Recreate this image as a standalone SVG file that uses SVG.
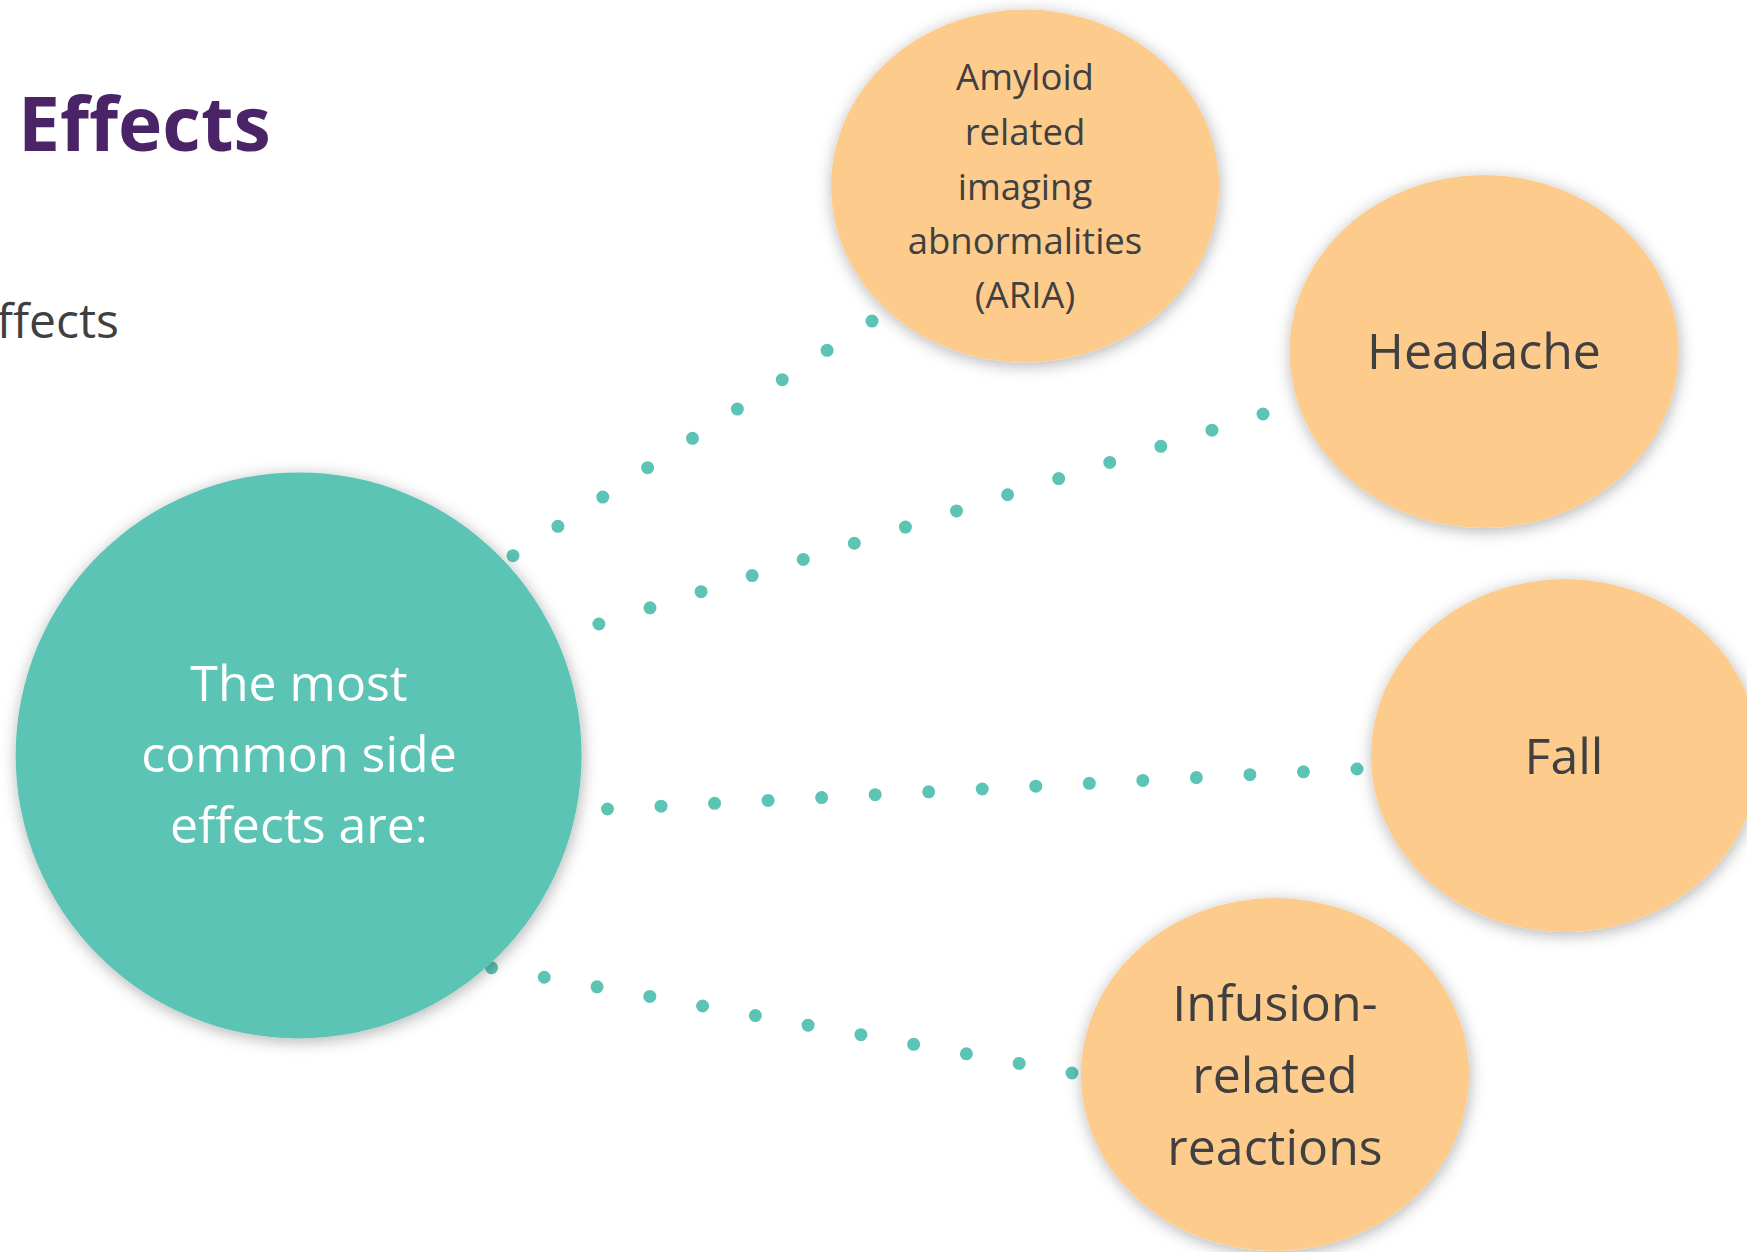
<svg xmlns="http://www.w3.org/2000/svg" width="1747" height="1252" viewBox="0 0 1747 1252">
  <defs>
    <filter id="shadow" x="-20%" y="-20%" width="140%" height="140%">
      <feDropShadow dx="1" dy="3" stdDeviation="8" flood-color="#000" flood-opacity="0.3"/>
    </filter>
    <style>
      .dots { fill: none; stroke: #5BC4B5; stroke-width: 13; stroke-linecap: round; }
      .hub { fill: #5BC4B5; filter: url(#shadow); }
      .leaf { fill: #FDCC8C; filter: url(#shadow); }
      .hubtext { font-family: "Open Sans", "Noto Sans", sans-serif; font-size: 50px; fill: #FFFFFF; text-anchor: middle; }
      .leaftext { font-family: "Open Sans", "Noto Sans", sans-serif; font-size: 50px; fill: #404040; text-anchor: middle; }
      .small { font-size: 36.5px; }
      .title { font-family: "Open Sans", "Noto Sans", sans-serif; font-weight: bold; font-size: 75px; fill: #4B2367; }
      .sub { font-family: "Open Sans", "Noto Sans", sans-serif; font-size: 48px; fill: #404040; text-anchor: end; }
    </style>
  </defs>
  <rect width="1747" height="1252" fill="#FFFFFF"/>

  <g id="title">
    <text class="title" x="18" y="151">Effects</text>
    <text class="sub" x="119" y="338">ffects</text>
  </g>

  <g id="connectors">
    <path class="dots" d="M513,555.7 L872.8,320.5" stroke-dasharray="0 53.61"/>
    <path class="dots" d="M598.9,624 L1264,413.7" stroke-dasharray="0 53.58"/>
    <path class="dots" d="M607.5,809 L1358,768.95" stroke-dasharray="0 53.61"/>
    <path class="dots" d="M491.5,967.7 L1073,1073.2" stroke-dasharray="0 53.63"/>
  </g>

  <g id="node-center">
    <circle class="hub" cx="298.6" cy="755.4" r="283"/>
    <text class="hubtext" x="299" y="701">The most</text>
    <text class="hubtext" x="299" y="772">common side</text>
    <text class="hubtext" x="299" y="843">effects are:</text>
  </g>

  <g id="node-aria">
    <ellipse class="leaf" cx="1025" cy="186" rx="194" ry="176.5"/>
    <text class="leaftext small" x="1025" y="90">Amyloid</text>
    <text class="leaftext small" x="1025" y="145">related</text>
    <text class="leaftext small" x="1025" y="200">imaging</text>
    <text class="leaftext small" x="1025" y="254">abnormalities</text>
    <text class="leaftext small" x="1025" y="308">(ARIA)</text>
  </g>

  <g id="node-headache">
    <ellipse class="leaf" cx="1484" cy="351.5" rx="194.5" ry="176.5"/>
    <text class="leaftext" x="1484" y="369">Headache</text>
  </g>

  <g id="node-fall">
    <ellipse class="leaf" cx="1565" cy="755.5" rx="194" ry="176.5"/>
    <text class="leaftext" x="1564" y="774">Fall</text>
  </g>

  <g id="node-infusion">
    <ellipse class="leaf" cx="1275" cy="1074.5" rx="194" ry="176.5"/>
    <text class="leaftext" x="1275" y="1021">Infusion-</text>
    <text class="leaftext" x="1275" y="1093">related</text>
    <text class="leaftext" x="1275" y="1165">reactions</text>
  </g>
</svg>
